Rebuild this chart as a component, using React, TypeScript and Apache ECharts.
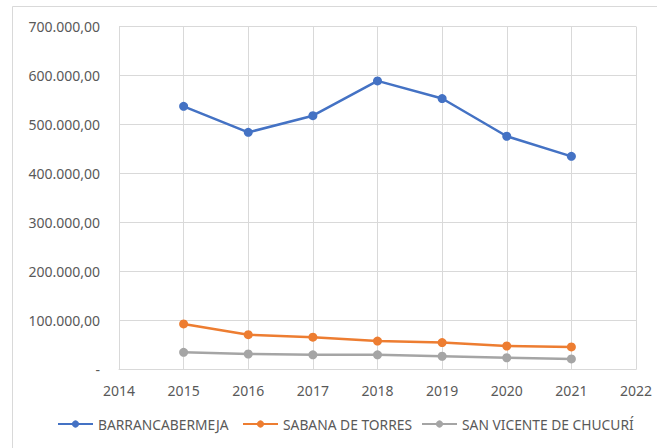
import React, { useEffect, useRef } from "react";
import * as echarts from "echarts";

const years = [2015, 2016, 2017, 2018, 2019, 2020, 2021];
const barranca = [537000, 484000, 518000, 589000, 553000, 476000, 435000];
const sabana = [93000, 71000, 66000, 58000, 55000, 48000, 46000];
const sanVicente = [35000, 31600, 30000, 30000, 27000, 24000, 21500];
const seriesNames = ["BARRANCABERMEJA", "SABANA DE TORRES", "SAN VICENTE DE CHUCURÍ"];
const colors = ["#4472C4", "#ED7D31", "#A5A5A5"];
const legendLefts = [57, 242, 421];

const FONT = "Noto Sans";

function fmt(v: number): string {
  if (v === 0) return "-";
  const s = Math.round(v).toString().replace(/\B(?=(\d{3})+(?!\d))/g, ".");
  return s + ",00";
}

export default function App() {
  const ref = useRef<HTMLDivElement>(null);
  useEffect(() => {
    if (!ref.current) return;
    const chart = echarts.init(ref.current, undefined, { renderer: "svg" });
    const allData = [barranca, sabana, sanVicente];
    chart.setOption({
      animation: false,
      backgroundColor: "#ffffff",
      textStyle: { fontFamily: FONT },
      graphic: [
        {
          type: "rect",
          shape: { x: 12.5, y: 6.5, width: 700, height: 500 },
          style: { fill: "none", stroke: "#d9d9d9", lineWidth: 1 },
          silent: true,
        },
      ],
      grid: { left: 119, right: 21, top: 26.5, bottom: 78.5, containLabel: false },
      legend: seriesNames.map((name, i) => ({
        left: legendLefts[i],
        top: 417,
        padding: 0,
        itemWidth: 35,
        itemHeight: 9,
        textStyle: { fontFamily: FONT, fontSize: 13.8, color: "#595959" },
        data: [name],
      })),
      xAxis: {
        type: "value",
        min: 2014,
        max: 2022,
        interval: 1,
        axisLine: { show: true, lineStyle: { color: "#d9d9d9", width: 1 } },
        axisTick: { show: false },
        splitLine: { show: true, lineStyle: { color: "#d9d9d9", width: 1 } },
        axisLabel: {
          margin: 14,
          fontFamily: FONT,
          fontSize: 14,
          color: "#595959",
          formatter: (v: number) => String(v),
        },
      },
      yAxis: {
        type: "value",
        min: 0,
        max: 700000,
        interval: 100000,
        axisLine: { show: true, lineStyle: { color: "#d9d9d9", width: 1 } },
        axisTick: { show: false },
        splitLine: { show: true, lineStyle: { color: "#d9d9d9", width: 1 } },
        axisLabel: {
          margin: 19,
          fontFamily: FONT,
          fontSize: 14,
          color: "#595959",
          formatter: (v: number) => fmt(v),
        },
      },
      series: seriesNames.map((name, i) => ({
        name,
        type: "line",
        data: years.map((y, j) => [y, allData[i][j]]),
        symbol: "circle",
        symbolSize: 9,
        color: colors[i],
        lineStyle: { color: colors[i], width: 2.5 },
        itemStyle: { color: colors[i] },
      })),
    });
    return () => chart.dispose();
  }, []);
  return (
    <div
      ref={ref}
      style={{ position: "fixed", left: 0, top: 0, width: 657, height: 448 }}
    />
  );
}
